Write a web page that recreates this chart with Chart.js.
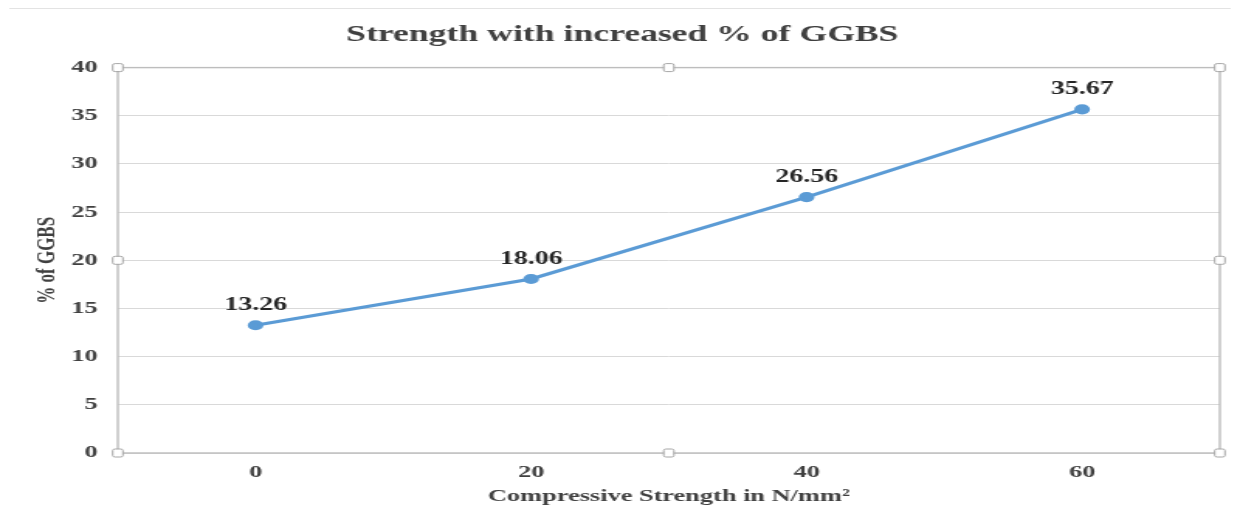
<!DOCTYPE html>
<html>
<head>
<meta charset="utf-8">
<script src="https://cdn.jsdelivr.net/npm/chart.js@4.4.0/dist/chart.umd.min.js"></script>
<style>
  html, body { margin: 0; padding: 0; background: #fff; }
  #wrap { width: 1240px; height: 522px; position: relative; overflow: hidden; }
  /* la imagen original esta estirada a lo ancho: el canvas se dibuja a 800 y se estira a 1240 */
  #ggbsChart { width: 1240px; height: 522px; display: block; }
</style>
</head>
<body>
<div id="wrap"><canvas id="ggbsChart" width="800" height="522" style="width:1240px;height:522px"></canvas></div>
<script>
// datos del grafico
const strengthLabels = ['0', '20', '40', '60'];
const ggbsValues = [13.26, 18.06, 26.56, 35.67];
const yTicks = [0, 5, 10, 15, 20, 25, 30, 35, 40];

const TEXT = '#404040';
const SERIF = '"Liberation Serif", "Times New Roman", serif';

// etiquetas encima de cada punto
const valueLabels = {
  id: 'valueLabels',
  afterDatasetsDraw(chart) {
    const ctx = chart.ctx;
    const meta = chart.getDatasetMeta(0);
    ctx.save();
    ctx.font = 'bold 18px ' + SERIF;
    ctx.fillStyle = '#262626';
    ctx.textAlign = 'center';
    ctx.textBaseline = 'alphabetic';
    meta.data.forEach((pt, i) => {
      ctx.fillText(ggbsValues[i].toFixed(2), pt.x, pt.y - 15);
    });
    ctx.restore();
  }
};

// marco del area y los cuadritos de seleccion (como en Excel)
const plotFrame = {
  id: 'plotFrame',
  afterDraw(chart) {
    const { left, right, top, bottom } = chart.chartArea;
    const ctx = chart.ctx;
    ctx.save();
    ctx.strokeStyle = '#bdbdbd';
    ctx.lineWidth = 1.4;
    ctx.strokeRect(left, top, right - left, bottom - top);

    // linea fina arriba del todo
    ctx.strokeStyle = '#e3e3e3';
    ctx.lineWidth = 1;
    ctx.beginPath();
    ctx.moveTo(6, 8.5);
    ctx.lineTo(794, 8.5);
    ctx.stroke();

    const midX = (left + right) / 2;
    const midY = (top + bottom) / 2;
    const spots = [
      [left, top], [midX, top], [right, top],
      [left, midY], [right, midY],
      [left, bottom], [midX, bottom], [right, bottom]
    ];
    ctx.fillStyle = '#ffffff';
    ctx.strokeStyle = '#a6a6a6';
    ctx.lineWidth = 1;
    spots.forEach(([x, y]) => {
      ctx.beginPath();
      ctx.roundRect(x - 3.3, y - 4, 6.6, 8, 1.5);
      ctx.fill();
      ctx.stroke();
    });
    ctx.restore();
  }
};

const ctx = document.getElementById('ggbsChart').getContext('2d');
const ggbsChart = new Chart(ctx, {
  type: 'line',
  data: {
    labels: strengthLabels,
    datasets: [{
      data: ggbsValues,
      borderColor: '#5b9bd5',
      backgroundColor: '#5b9bd5',
      borderWidth: 3.2,
      pointRadius: 3.5,
      pointHoverRadius: 3.5,
      tension: 0
    }]
  },
  options: {
    responsive: false,
    animation: false,
    devicePixelRatio: 1,
    layout: { padding: { left: 16, right: 13, top: 10, bottom: 15 } },
    plugins: {
      legend: { display: false },
      tooltip: { enabled: false },
      title: {
        display: true,
        text: 'Strength with increased % of GGBS',
        color: TEXT,
        font: { family: SERIF, size: 23, weight: 'bold' },
        padding: { top: 11, bottom: 19 }
      }
    },
    scales: {
      x: {
        type: 'category',
        offset: true,
        afterFit(scale) { scale.height = 54; },
        grid: { display: false },
        border: { display: false },
        ticks: {
          color: TEXT,
          font: { family: SERIF, size: 17, weight: 'bold' },
          padding: 1
        },
        title: {
          display: true,
          text: 'Compressive Strength in N/mm²',
          color: TEXT,
          font: { family: SERIF, size: 17, weight: 'bold' },
          padding: { top: 4, bottom: 0 }
        }
      },
      y: {
        min: 0,
        max: 40,
        afterFit(scale) { scale.width = 60; },
        afterBuildTicks(scale) {
          scale.ticks = yTicks.map(v => ({ value: v }));
        },
        grid: { color: '#d9d9d9', lineWidth: 1, drawTicks: false },
        border: { display: false },
        ticks: {
          color: TEXT,
          font: { family: SERIF, size: 17, weight: 'bold' },
          padding: 13
        },
        title: {
          display: true,
          text: '% of GGBS',
          color: TEXT,
          font: { family: SERIF, size: 17, weight: 'bold' },
          padding: { top: 4, bottom: 5 }
        }
      }
    }
  },
  plugins: [valueLabels, plotFrame]
});
</script>
</body>
</html>
